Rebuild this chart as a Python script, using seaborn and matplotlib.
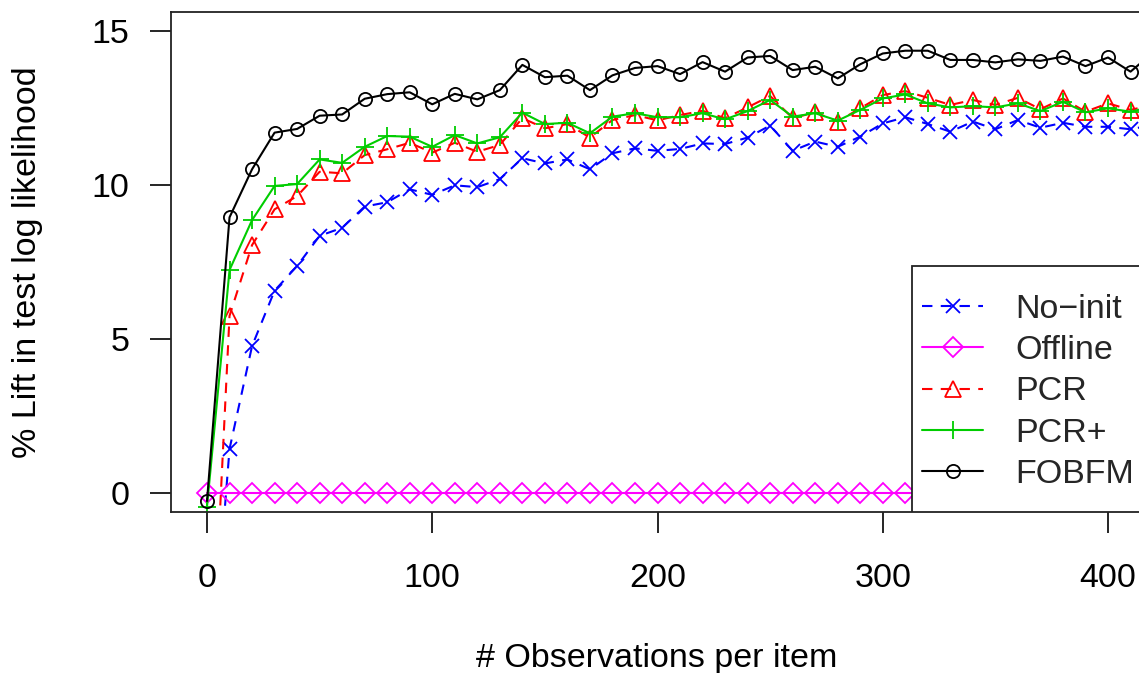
import pandas as pd
import matplotlib
matplotlib.use("Agg")
import matplotlib.pyplot as plt
from matplotlib.patches import Rectangle
import seaborn as sns

obs = [0, 10, 20, 30, 40, 50, 60, 70, 80, 90, 100, 110, 120, 130, 140, 150, 160,
       170, 180, 190, 200, 210, 220, 230, 240, 250, 260, 270, 280, 290, 300, 310,
       320, 330, 340, 350, 360, 370, 380, 390, 400, 410, 420]

no_init = [-7.8, 1.43, 4.77, 6.57, 7.37, 8.35, 8.61, 9.30, 9.44, 9.86, 9.68, 9.99,
           9.93, 10.19, 10.87, 10.70, 10.83, 10.51, 11.03, 11.19, 11.11, 11.17, 11.35,
           11.33, 11.54, 11.93, 11.11, 11.41, 11.24, 11.57, 12.00, 12.20, 11.98, 11.73,
           12.06, 11.81, 12.11, 11.86, 12.02, 11.89, 11.89, 11.81, 11.95]
offline = [0.0] * 43
pcr = [-9.25, 5.75, 8.05, 9.21, 9.64, 10.43, 10.38, 10.97, 11.16, 11.37, 11.05, 11.37,
       11.08, 11.30, 12.17, 11.84, 11.98, 11.54, 12.11, 12.27, 12.10, 12.27, 12.41,
       12.17, 12.52, 12.89, 12.17, 12.36, 12.06, 12.49, 12.92, 13.05, 12.83, 12.60,
       12.76, 12.60, 12.83, 12.46, 12.81, 12.38, 12.65, 12.44, 12.60]
pcr_plus = [-0.44, 7.24, 8.86, 9.97, 10.03, 10.83, 10.72, 11.24, 11.59, 11.57, 11.24,
            11.62, 11.35, 11.55, 12.35, 11.98, 12.02, 11.68, 12.22, 12.33, 12.20, 12.20,
            12.33, 12.13, 12.40, 12.76, 12.22, 12.33, 12.09, 12.44, 12.81, 12.94, 12.65,
            12.52, 12.56, 12.52, 12.65, 12.40, 12.70, 12.36, 12.49, 12.38, 12.55]
fobfm = [-0.26, 8.95, 10.51, 11.70, 11.82, 12.25, 12.29, 12.80, 12.95, 13.01, 12.62,
         12.96, 12.78, 13.08, 13.90, 13.50, 13.55, 13.08, 13.56, 13.80, 13.86, 13.60,
         13.99, 13.68, 14.14, 14.19, 13.73, 13.84, 13.46, 13.92, 14.27, 14.36, 14.36,
         14.06, 14.06, 13.98, 14.08, 14.03, 14.17, 13.86, 14.14, 13.68, 14.30]

series = ["No\u2212init", "Offline", "PCR", "PCR+", "FOBFM"]
values = [no_init, offline, pcr, pcr_plus, fobfm]
colors = ["#0000FF", "#FF00FF", "#FF0000", "#00CD00", "#000000"]
markers = ["x", "D", "^", "+", "o"]
msizes = [10, 10, 12, 13, 9.5]
dashed = [True, False, True, False, False]

sns.set_theme(style="ticks")
plt.rcParams["font.family"] = ["Liberation Sans", "DejaVu Sans"]
FS = 24.5

fig = plt.figure(figsize=(11.39, 6.73), dpi=100)
W, H = 1139, 673
ax_l, ax_r, ax_t, ax_b = 171, 1143, 11.5, 512
ax = fig.add_axes([ax_l / W, 1 - ax_b / H, (ax_r - ax_l) / W, (ax_b - ax_t) / H])

for name, vals, c, m, ms, d in zip(series, values, colors, markers, msizes, dashed):
    df = pd.DataFrame({"obs": obs, "lift": vals})
    ls = (0, (5, 4)) if d else "-"
    sns.lineplot(data=df, x="obs", y="lift", ax=ax, color=c, marker=m, ms=ms,
                 mfc="none", mec=c, mew=1.3, lw=1.5, linestyle=ls,
                 errorbar=None, sort=False, label=name, legend=False)

# pixel mapping: x=0 at 207px, 400 at 1108px; y=0 at 493px, 15 at 31px
ax.set_xlim((ax_l - 207) / 2.2525, (ax_r - 207) / 2.2525)
ax.set_ylim((493 - ax_b) / 30.8, (493 - ax_t) / 30.8)
ax.set_xticks([0, 100, 200, 300, 400])
ax.set_yticks([0, 5, 10, 15])
ax.tick_params(direction="out", length=15, width=1.2, color="black",
               labelsize=FS, labelcolor="black")
ax.tick_params(axis="x", pad=22)
ax.tick_params(axis="y", pad=15)
for s in ax.spines.values():
    s.set_linewidth(1.3)
    s.set_color("#222222")
    s.set_visible(True)

ax.set_xlabel("# Observations per item", fontsize=FS, color="black")
ax.set_ylabel("% Lift in test log likelihood", fontsize=FS, color="black")
ax.xaxis.label.set_va("center")
ax.yaxis.label.set_va("center")
ax.xaxis.set_label_coords(0.5, (ax_b - 659) / (ax_b - ax_t))
ax.yaxis.set_label_coords((28 - ax_l) / (ax_r - ax_l), 0.5)

# legend box (white, covers lines), anchored bottom right like R's legend
lx = (912 - 207) / 2.2525
ltop = (493 - 266) / 30.8
ax.add_patch(Rectangle((lx, ax.get_ylim()[0]), 300, ltop - ax.get_ylim()[0],
                       facecolor="white", edgecolor="#222222", lw=1.3, zorder=4))
handles, labels = ax.get_legend_handles_labels()
em = FS * 100 / 72
ax.legend(handles, labels, loc="center left", bbox_to_anchor=(922 / W, 1 - 392 / H),
          bbox_transform=fig.transFigure, frameon=False, fontsize=FS,
          borderpad=0, borderaxespad=0, handlelength=61 / em,
          handletextpad=32 / em, labelspacing=0.3)

fig.savefig("out.png", dpi=100, facecolor="white")
